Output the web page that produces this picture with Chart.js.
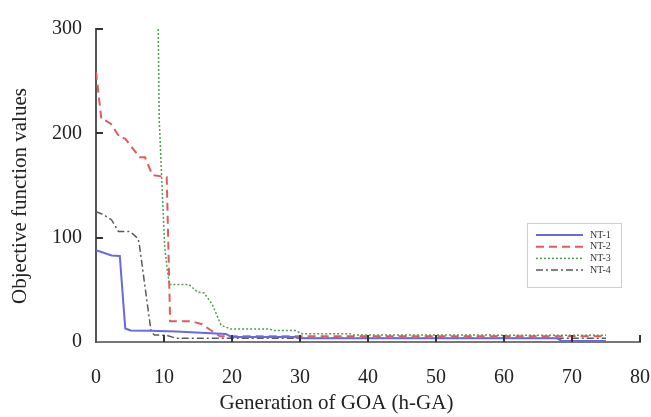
<!DOCTYPE html>
<html>
<head>
<meta charset="utf-8">
<script src="https://cdn.jsdelivr.net/npm/chart.js@4.4.1/dist/chart.umd.min.js"></script>
<style>
  html, body { margin: 0; padding: 0; background: #fff; }
  #wrap { width: 651px; height: 417px; position: relative; }
</style>
</head>
<body>
<div id="wrap"><canvas id="c" width="651" height="417"></canvas></div>
<script>
// ---- data ----
const seriesLabels = ['NT-1', 'NT-2', 'NT-3', 'NT-4'];

const nt1Gen = [0, 2.3, 3.5, 4.3, 5.1, 8, 11.8, 19.1, 19.9, 29.3, 29.8, 67.8, 68.5, 75];
const nt1Val = [88, 83, 82.5, 13, 11, 10.8, 10, 7.7, 4.8, 4.8, 3.5, 3.5, 1, 1];

const nt2Gen = [0, 0.8, 1.5, 2.2, 3.5, 4.3, 6.4, 7.2, 8.3, 10.4, 10.9, 14, 15.6, 18.2, 75];
const nt2Val = [259, 213, 212, 209, 196, 195, 177, 177, 160, 158, 20, 20, 17, 5.5, 5.5];

const nt3Gen = [9.15, 9.3, 9.65, 10.1, 10.5, 10.8, 13.7, 14.9, 15.9, 17.1, 18.4, 19.8, 25.4, 26.2, 29.3, 30.3, 37.3, 37.9, 75];
const nt3Val = [300, 213, 159, 92, 68, 55, 55, 48, 47, 36, 16, 12.5, 12.5, 11, 11, 8, 8, 6.7, 6.5];

const nt4Gen = [0, 1.1, 2.3, 3.3, 5, 6.2, 6.4, 8.1, 8.6, 10.3, 11.8, 20, 75];
const nt4Val = [125, 122, 117, 106, 106, 99, 92, 10, 6.7, 6.5, 3.5, 3.5, 3.5];

const xTicks = [0, 10, 20, 30, 40, 50, 60, 70, 80];
const yTicks = [0, 100, 200, 300];

// ---- build chart ----
function pts(g, v) { return g.map((x, i) => ({ x: x, y: v[i] })); }

const serif = "'Liberation Serif', 'DejaVu Serif', serif";

const insideTicks = {
  id: 'insideTicks',
  afterDraw(chart) {
    const ctx = chart.ctx;
    const xs = chart.scales.x, ys = chart.scales.y;
    const a = chart.chartArea;
    ctx.save();
    ctx.strokeStyle = '#333';
    ctx.lineWidth = 2;
    xTicks.forEach(t => {
      if (t === 0) return;
      const px = Math.round(xs.getPixelForValue(t));
      ctx.beginPath(); ctx.moveTo(px, a.bottom); ctx.lineTo(px, a.bottom - 7); ctx.stroke();
    });
    yTicks.forEach(t => {
      if (t === 0) return;
      const py = Math.round(ys.getPixelForValue(t));
      ctx.beginPath(); ctx.moveTo(a.left, py); ctx.lineTo(a.left + 7, py); ctx.stroke();
    });
    ctx.restore();
  }
};

const boxLegend = {
  id: 'boxLegend',
  afterDraw(chart) {
    const ctx = chart.ctx;
    const bx = 527, by = 223, bw = 94, bh = 64;
    ctx.save();
    ctx.fillStyle = '#fff';
    ctx.fillRect(bx, by, bw, bh);
    ctx.strokeStyle = '#cfcfcf';
    ctx.lineWidth = 1;
    ctx.strokeRect(bx + 0.5, by + 0.5, bw, bh);
    chart.data.datasets.forEach((ds, i) => {
      const y = by + 12 + i * 11.7;
      ctx.strokeStyle = ds.borderColor;
      ctx.lineWidth = ds.borderWidth;
      ctx.setLineDash(ds.borderDash || []);
      ctx.beginPath(); ctx.moveTo(536, y); ctx.lineTo(583, y); ctx.stroke();
      ctx.setLineDash([]);
      ctx.fillStyle = '#333';
      ctx.font = "10px " + serif;
      ctx.textBaseline = 'middle';
      ctx.textAlign = 'left';
      ctx.fillText(ds.label, 590, y);
    });
    ctx.restore();
  }
};

const pad = n => '\u00a0'.repeat(n);

new Chart(document.getElementById('c'), {
  type: 'scatter',
  data: {
    datasets: [
      { label: seriesLabels[0], data: pts(nt1Gen, nt1Val), borderColor: '#6868e2', borderWidth: 2, borderDash: [] },
      { label: seriesLabels[1], data: pts(nt2Gen, nt2Val), borderColor: '#e05c5c', borderWidth: 2, borderDash: [8, 5] },
      { label: seriesLabels[2], data: pts(nt3Gen, nt3Val), borderColor: '#4f9e4f', borderWidth: 1.5, borderDash: [2, 2] },
      { label: seriesLabels[3], data: pts(nt4Gen, nt4Val), borderColor: '#5a5a5a', borderWidth: 1.5, borderDash: [7, 3, 2, 3] }
    ].map(d => Object.assign(d, { showLine: true, pointRadius: 0, tension: 0, fill: false }))
  },
  options: {
    responsive: false,
    animation: false,
    layout: { padding: { left: 0, right: 11, top: 29, bottom: 0 } },
    plugins: { legend: { display: false }, tooltip: { enabled: false } },
    scales: {
      x: {
        type: 'linear', min: 0, max: 80,
        afterFit(s) { s.height = 75; s.paddingLeft = 0; s.paddingRight = 0; },
        afterBuildTicks(s) { s.ticks = xTicks.map(v => ({ value: v })); },
        grid: { display: false, drawTicks: false },
        border: { display: true, color: '#777', width: 2 },
        ticks: { padding: 24, color: '#222', font: { family: serif, size: 20 } },
        title: { display: true, text: 'Generation of GOA (h-GA)' + pad(12), color: '#222',
                 font: { family: serif, size: 21 }, padding: { top: 0, bottom: 1 } }
      },
      y: {
        type: 'linear', min: 0, max: 300,
        afterFit(s) { s.width = 96; s.paddingTop = 0; s.paddingBottom = 0; },
        afterBuildTicks(s) { s.ticks = yTicks.map(v => ({ value: v })); },
        grid: { display: false, drawTicks: false },
        border: { display: true, color: '#555', width: 2 },
        ticks: { padding: 14, color: '#222', font: { family: serif, size: 20 } },
        title: { display: true, text: 'Objective function values' + pad(4), color: '#222',
                 font: { family: serif, size: 21 }, padding: { top: 8, bottom: 0 } }
      }
    }
  },
  plugins: [insideTicks, boxLegend]
});
</script>
</body>
</html>
